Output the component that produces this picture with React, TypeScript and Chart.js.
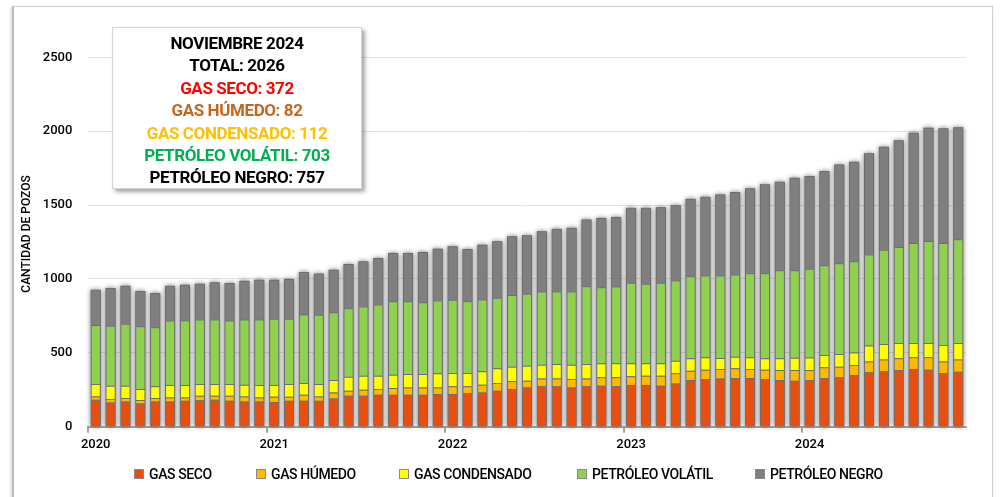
import React, { useEffect, useRef } from "react";
import { Chart, registerables } from "chart.js";

Chart.register(...registerables);

const YEARS = ["2020", "2021", "2022", "2023", "2024"];
const MONTHS = ["01", "02", "03", "04", "05", "06", "07", "08", "09", "10", "11", "12"];
const MONTH_COUNT = 59; // Jan 2020 .. Nov 2024

const GAS_SECO = [
  182, 164, 171, 157, 171, 171, 176, 180, 182, 176, 171, 171,
  167, 176, 176, 176, 191, 210, 210, 216, 216, 216, 216, 221,
  221, 228, 232, 243, 255, 266, 273, 273, 266, 273, 277, 273,
  282, 282, 277, 293, 316, 323, 327, 329, 329, 323, 316, 311,
  316, 329, 334, 350, 368, 375, 384, 391, 386, 363, 372,
];
const GAS_HUMEDO = [
  23, 23, 23, 23, 23, 27, 22, 29, 27, 33, 34, 27,
  36, 27, 40, 29, 41, 33, 40, 39, 46, 50, 50, 45,
  52, 45, 52, 52, 52, 45, 54, 54, 57, 54, 57, 61,
  59, 63, 68, 68, 63, 63, 63, 66, 61, 63, 68, 73,
  68, 73, 72, 68, 74, 79, 79, 79, 84, 79, 82,
];
const GAS_CONDENSADO = [
  84, 90, 83, 75, 79, 84, 84, 80, 80, 80, 79, 84,
  79, 86, 80, 84, 84, 95, 95, 90, 90, 91, 91, 95,
  90, 90, 91, 100, 99, 102, 93, 97, 97, 97, 95, 95,
  88, 84, 84, 86, 84, 84, 75, 79, 80, 77, 79, 83,
  85, 84, 86, 85, 107, 106, 104, 97, 97, 111, 112,
];
const PETROLEO_VOLATIL = [
  400, 407, 419, 425, 400, 436, 436, 436, 436, 429, 441, 443,
  448, 441, 463, 468, 459, 464, 468, 482, 497, 492, 486, 493,
  496, 486, 486, 477, 486, 486, 495, 491, 495, 527, 515, 520,
  545, 538, 545, 543, 556, 554, 559, 556, 569, 576, 595, 591,
  600, 606, 615, 616, 617, 638, 649, 676, 690, 690, 703,
];
const PETROLEO_NEGRO = [
  238, 254, 258, 238, 232, 236, 243, 243, 252, 254, 263, 270,
  265, 270, 288, 279, 288, 299, 306, 315, 327, 327, 340, 351,
  362, 354, 371, 383, 397, 397, 408, 424, 431, 451, 469, 471,
  507, 514, 512, 509, 523, 532, 548, 558, 574, 601, 600, 627,
  627, 638, 668, 674, 684, 697, 722, 747, 767, 776, 757,
];

const SERIES_NAMES = ["GAS SECO", "GAS HÚMEDO", "GAS CONDENSADO", "PETRÓLEO VOLÁTIL", "PETRÓLEO NEGRO"];
const SERIES_COLORS = ["#E84E10", "#FFB900", "#FFFF00", "#8FD14F", "#7F7F7F"];
const SERIES_DATA = [GAS_SECO, GAS_HUMEDO, GAS_CONDENSADO, PETROLEO_VOLATIL, PETROLEO_NEGRO];

const Y_TICKS = [0, 500, 1000, 1500, 2000, 2500];

const BOX_TITLE = "NOVIEMBRE 2024";
const BOX_TOTAL = "TOTAL: 2026";
const BOX_LINES = [
  { text: "GAS SECO: 372", color: "#FF0000" },
  { text: "GAS HÚMEDO: 82", color: "#C5661C" },
  { text: "GAS CONDENSADO: 112", color: "#FFC000" },
  { text: "PETRÓLEO VOLÁTIL: 703", color: "#00B050" },
  { text: "PETRÓLEO NEGRO: 757", color: "#000000" },
];

// legend item left edges (layout only)
const LEGEND_LEFT = [134, 256, 399, 577, 755];

const LABELS: string[] = [];
for (const y of YEARS) {
  for (const m of MONTHS) {
    if (LABELS.length < MONTH_COUNT) LABELS.push(`${y}-${m}`);
  }
}

const FONT = "Roboto, 'Noto Sans', sans-serif";

const barShadowPlugin = {
  id: "barShadow",
  beforeDatasetsDraw(chart: any) {
    const ctx = chart.ctx;
    const n = chart.data.datasets.length;
    const first = chart.getDatasetMeta(0);
    const last = chart.getDatasetMeta(n - 1);
    ctx.save();
    ctx.shadowColor = "rgba(0,0,0,0.55)";
    ctx.shadowBlur = 5;
    ctx.shadowOffsetX = 0;
    ctx.shadowOffsetY = 0;
    ctx.fillStyle = "#7f7f7f";
    for (let i = 0; i < last.data.length; i++) {
      const top = last.data[i];
      const bot = first.data[i];
      const props = top.getProps(["x", "y", "width"], true);
      const baseProps = bot.getProps(["base"], true);
      ctx.fillRect(props.x - props.width / 2, props.y, props.width, baseProps.base - props.y);
    }
    ctx.restore();
  },
};

const yTitlePlugin = {
  id: "yTitle",
  afterDraw(chart: any) {
    const ctx = chart.ctx;
    ctx.save();
    ctx.translate(27, 234);
    ctx.rotate(-Math.PI / 2);
    ctx.font = `500 12px ${FONT}`;
    ctx.fillStyle = "#000";
    ctx.textAlign = "center";
    ctx.textBaseline = "middle";
    ctx.fillText("CANTIDAD DE POZOS", 0, 0);
    ctx.restore();
  },
};

export default function App() {
  const canvasRef = useRef<HTMLCanvasElement | null>(null);

  useEffect(() => {
    if (!canvasRef.current) return;
    const chart = new Chart(canvasRef.current, {
      type: "bar",
      data: {
        labels: LABELS,
        datasets: SERIES_NAMES.map((name, k) => ({
          label: name,
          data: SERIES_DATA[k],
          backgroundColor: SERIES_COLORS[k],
          borderColor: "#6E6E6E",
          borderWidth: 1,
          barPercentage: 0.68,
          categoryPercentage: 1,
        })),
      },
      options: {
        responsive: false,
        animation: false,
        devicePixelRatio: 1,
        layout: { padding: { top: 57.3, right: 38.3, bottom: 40.3, left: 0 } },
        plugins: {
          legend: { display: false },
          tooltip: { enabled: false },
          title: { display: false },
        },
        scales: {
          x: {
            stacked: true,
            offset: true,
            afterFit: (s: any) => {
              s.height = 30;
            },
            border: { display: true, color: "#A6A6A6", width: 2 },
            grid: {
              offset: true,
              drawOnChartArea: false,
              drawTicks: true,
              tickLength: 6,
              lineWidth: 2,
              color: (c: any) => (c.index % 12 === 0 ? "#A6A6A6" : "rgba(0,0,0,0)"),
            },
            ticks: {
              autoSkip: false,
              maxRotation: 0,
              minRotation: 0,
              padding: 4,
              color: "#000",
              font: { family: FONT, size: 13, weight: "500" },
              callback: (_v: any, i: number) => (i % 12 === 0 ? YEARS[i / 12] : ""),
            },
          },
          y: {
            stacked: true,
            min: Y_TICKS[0],
            max: Y_TICKS[Y_TICKS.length - 1],
            afterFit: (s: any) => {
              s.width = 88.3;
            },
            afterBuildTicks: (s: any) => {
              s.ticks = Y_TICKS.map((v) => ({ value: v }));
            },
            border: { display: false },
            grid: { color: "#E4E4E4", lineWidth: 1, drawTicks: false },
            ticks: {
              padding: 16,
              color: "#000",
              font: { family: FONT, size: 13, weight: "500" },
              callback: (v: any) => String(v),
            },
          },
        },
      },
      plugins: [barShadowPlugin, yTitlePlugin],
    });
    return () => chart.destroy();
  }, []);

  return (
    <div
      style={{
        position: "fixed",
        left: 0,
        top: 0,
        width: 1004,
        height: 497,
        overflow: "hidden",
        background: "#fff",
        fontFamily: FONT,
      }}
    >
      <div
        style={{
          position: "absolute",
          left: 12,
          top: 6,
          width: 978,
          height: 520,
          border: "1px solid #D0D0D0",
          borderLeft: "2px solid #BDBDBD",
          boxShadow: "-1px 1px 3px rgba(0,0,0,0.18)",
          background: "#fff",
        }}
      />
      <canvas ref={canvasRef} width={1004} height={497} style={{ position: "absolute", left: 0, top: 0 }} />
      <div
        style={{
          position: "absolute",
          left: 112,
          top: 27,
          width: 250,
          height: 162,
          background: "#fff",
          border: "1px solid #D6D6D6",
          boxShadow: "3px 3px 4px rgba(0,0,0,0.35)",
          boxSizing: "border-box",
          paddingTop: 4,
          textAlign: "center",
          fontWeight: 700,
          fontSize: 17,
          lineHeight: "22.4px",
          letterSpacing: "-0.4px",
          whiteSpace: "nowrap",
        }}
      >
        <div style={{ color: "#000" }}>{BOX_TITLE}</div>
        <div style={{ color: "#000" }}>{BOX_TOTAL}</div>
        {BOX_LINES.map((l) => (
          <div key={l.text} style={{ color: l.color }}>
            {l.text}
          </div>
        ))}
      </div>
      {SERIES_NAMES.map((name, k) => (
        <div
          key={name}
          style={{
            position: "absolute",
            left: LEGEND_LEFT[k],
            top: 466,
            display: "flex",
            alignItems: "center",
            fontSize: 14,
            fontWeight: 500,
            letterSpacing: "-0.4px",
            lineHeight: "16px",
            whiteSpace: "nowrap",
          }}
        >
          <span
            style={{
              display: "inline-block",
              width: 8,
              height: 8,
              background: SERIES_COLORS[k],
              border: "1px solid #8A8A8A",
              marginRight: 5,
            }}
          />
          <span>{name}</span>
        </div>
      ))}
    </div>
  );
}
